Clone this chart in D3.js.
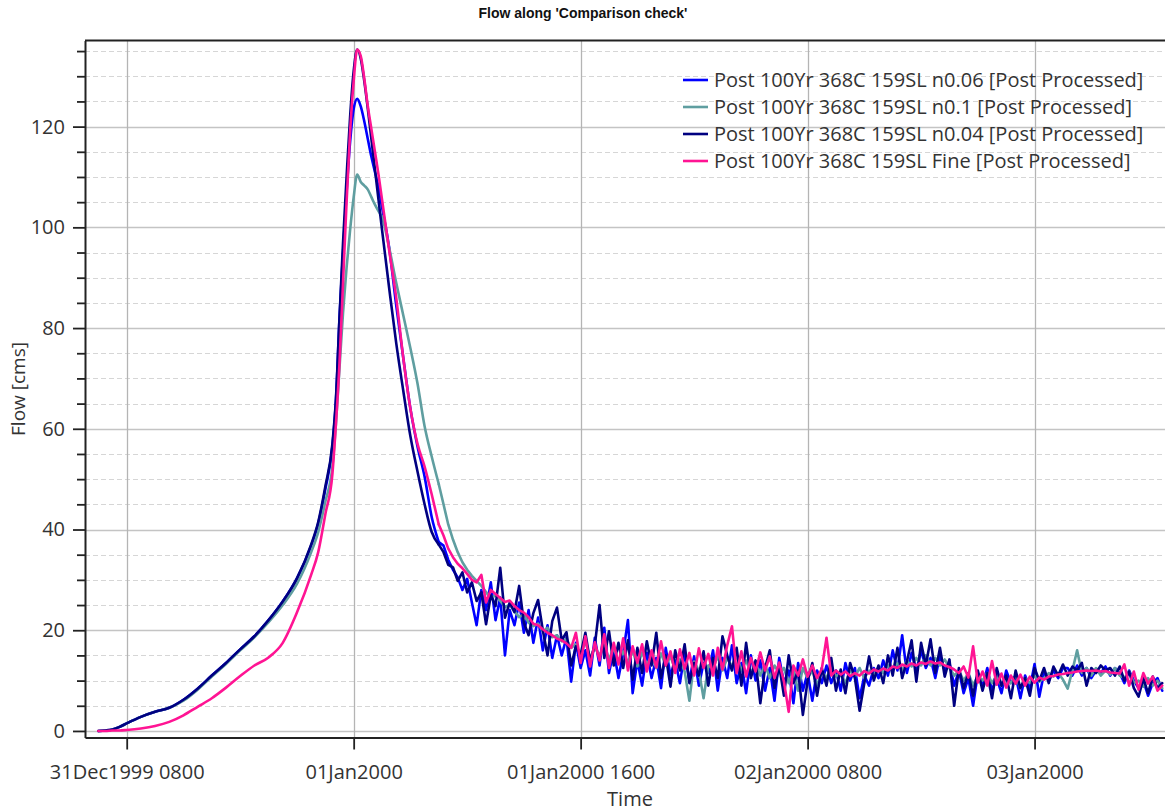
<!DOCTYPE html>
<html>
<head>
<meta charset="utf-8">
<script src="https://cdn.jsdelivr.net/npm/d3@7"></script>
<style>
  html, body { margin: 0; padding: 0; background: #fff; }
  svg { display: block; font-family: "Open Sans", "Noto Sans", sans-serif; }
</style>
</head>
<body>
<svg id="chart" width="1165" height="812"></svg>
<script>
// ---- data ---------------------------------------------------------------
const chartTitle = "Flow along 'Comparison check'";
const seriesNames = [
  "Post 100Yr 368C 159SL n0.06 [Post Processed]",
  "Post 100Yr 368C 159SL n0.1 [Post Processed]",
  "Post 100Yr 368C 159SL n0.04 [Post Processed]",
  "Post 100Yr 368C 159SL Fine [Post Processed]"
];
const seriesColors = ["#0000ff", "#5f9ea0", "#000080", "#ff1493"];

// hours after 31Dec1999 0600 for the smooth hydrograph limb
const smoothHours = [0, 0.5, 1, 1.5, 2, 3, 4, 5, 6, 7, 8, 9, 10, 11, 12, 13, 14,
  15, 15.5, 16, 16.5, 16.75, 17, 17.25, 17.5, 17.75, 18, 18.25, 18.5, 18.75, 19,
  19.25, 19.5, 19.75, 20, 20.5, 21, 21.5, 22, 22.5, 23, 23.5, 24];
// recession record continues every 20 minutes from 24h to 75h
const tailStartHour = 24;
const tailStepsPerHour = 3;

const n006Smooth = [0.0, 0.1, 0.3, 0.8, 1.5, 2.8, 3.8, 4.6, 6.2, 8.4, 11.0, 13.5, 16.2, 18.8, 22.0, 25.7, 30.3,
  36.8, 41.2, 48.0, 56.5, 65.5, 82.0, 95.0, 107.0, 117.0, 123.5, 125.5, 124.0, 121.0, 117.5,
  114.0, 111.0, 108.0, 104.0, 96.0, 84.5, 74.0, 64.0, 56.5, 50.5, 42.5, 37.5];
const n01Smooth = [0.0, 0.1, 0.3, 0.8, 1.5, 2.8, 3.8, 4.6, 6.0, 8.2, 10.8, 13.3, 16.0, 18.6, 21.6, 25.0, 29.2,
  35.5, 39.5, 45.5, 52.5, 61.0, 72.0, 83.0, 92.0, 99.5, 106.0, 110.5, 109.0, 108.3, 107.5,
  106.0, 104.5, 103.2, 102.0, 96.0, 89.0, 82.5, 76.0, 69.0, 60.5, 54.5, 49.0];
const n004Smooth = [0.0, 0.1, 0.3, 0.8, 1.5, 2.8, 3.8, 4.6, 6.2, 8.4, 11.0, 13.5, 16.2, 18.8, 22.0, 25.7, 30.3,
  37.0, 41.5, 48.5, 57.0, 66.0, 82.0, 97.0, 110.0, 122.0, 131.0, 135.3, 133.5, 129.0, 123.5,
  117.5, 111.5, 105.5, 99.5, 88.0, 77.0, 67.5, 58.5, 51.5, 45.0, 39.5, 37.0];
const fineSmooth = [0.0, 0.0, 0.1, 0.1, 0.2, 0.5, 1.0, 1.8, 3.1, 4.8, 6.5, 8.6, 10.9, 13.0, 14.6, 17.5, 23.5,
  31.0, 35.5, 43.0, 51.0, 61.0, 73.0, 89.0, 105.0, 119.0, 129.0, 135.3, 134.0, 129.5, 124.0,
  119.5, 115.0, 110.5, 105.5, 95.5, 86.0, 74.0, 64.0, 57.0, 52.5, 47.0, 41.0];

const n006Tail = [
  36.8, 34.0, 32.0,  30.5, 28.0, 30.2,  25.5, 21.0, 28.0,  24.0, 29.5, 22.0,
  26.5, 15.0, 24.0,  21.0, 25.5, 19.5,  24.0, 17.5, 22.5,  16.0, 21.0, 14.5,
  19.0, 15.0, 18.5,  9.8, 17.5, 12.5,   16.0, 11.0, 18.5,  13.0, 20.5, 11.5,
  16.0, 10.5, 15.5,  22.0, 7.5, 14.0,   9.0, 15.5, 10.5,   14.5, 8.5, 16.5,
  11.0, 14.0, 9.5,   15.5, 10.0, 14.8,  9.0, 13.5, 11.5,   16.0, 8.0, 14.5,
  10.5, 17.0, 9.5,   13.5, 7.5, 15.0,   10.0, 14.0, 8.0,   12.5, 6.0, 14.5,
  9.5, 12.0, 5.5,    13.5, 8.0, 11.5,   6.0, 12.0, 9.5,    13.0, 9.5, 12.0,
  8.0, 13.5, 10.0,   12.5, 6.5, 11.0,   9.0, 12.5, 10.5,   14.0, 11.0, 16.0,
  12.0, 19.0, 11.5,  15.5, 12.0, 16.0,  12.5, 14.5, 10.5,  15.0, 12.0, 13.5,
  9.0, 12.0, 7.5,    10.5, 5.0, 11.5,   9.0, 12.5, 8.0,    10.5, 7.5, 12.0,
  9.5, 11.0, 6.5,    11.0, 8.5, 13.3,   6.8, 11.5, 10.0,   12.0, 10.5, 12.5,
  12.5, 11.0, 13.0,  11.0, 12.5, 10.5,  12.0, 11.5, 12.8,  11.0, 12.5, 11.5,
  9.5, 12.0, 10.0,   8.5, 10.0, 7.0,    9.5, 10.5, 8.0
];
const n01Tail = [
  45.0, 41.0, 38.0,  35.5, 33.5, 32.0,  30.8, 29.8, 28.8,  27.6, 26.2, 27.0,
  25.8, 24.6, 25.0,  23.8, 22.6, 23.2,  21.5, 20.8, 21.3,  19.8, 20.5, 18.6,
  19.0, 17.8, 18.2,  16.5, 17.2, 15.0,  17.8, 14.5, 16.6,  15.0, 17.0, 14.2,
  16.5, 13.8, 15.8,  13.5, 16.0, 12.8,  15.6, 13.2, 14.8,  12.5, 15.4, 13.0,
  14.8, 12.2, 14.2,  11.8, 6.0, 13.8,   12.0, 6.5, 13.0,   12.5, 14.8, 12.0,
  14.5, 12.8, 15.0,  12.0, 14.0, 11.5,  13.5, 11.0, 13.2,  10.5, 13.0, 11.5,
  12.5, 9.5, 12.0,   8.0, 12.5, 10.5,   12.0, 9.0, 11.8,   10.5, 12.8, 10.8,
  11.5, 9.5, 12.0,   10.8, 12.5, 10.5,  12.0, 11.0, 12.8,  11.5, 13.0, 12.2,
  13.5, 12.0, 14.0,  12.8, 14.5, 13.0,  15.0, 13.0, 14.5,  13.0, 14.2, 12.5,
  11.0, 12.0, 10.0,  11.5, 9.0, 11.0,   10.0, 11.5, 9.5,   11.0, 9.0, 10.5,
  9.5, 11.0, 8.5,    10.5, 9.5, 11.0,   9.8, 10.5, 11.5,   10.8, 11.5, 10.2,
  8.4, 12.0, 16.0,   11.5, 12.5, 11.0,  12.5, 11.0, 12.0,  11.2, 12.5, 11.0,
  10.5, 11.8, 9.5,   10.0, 8.8, 10.5,   9.0, 10.0, 8.5
];
const n004Tail = [
  35.5, 33.0, 32.5,  29.8, 31.5, 27.5,  29.5, 25.8, 27.5,  21.2, 27.0, 24.8,
  32.4, 22.5, 25.5,  23.6, 28.8, 21.5,  19.0, 23.4, 26.0,  20.0, 15.0, 21.8,
  24.5, 18.0, 19.6,  13.0, 16.8, 15.2,  19.5, 13.8, 17.0,  25.0, 14.5, 19.8,
  13.0, 17.5, 12.5,  18.0, 10.2, 16.5,  11.5, 17.8, 13.0,  19.5, 10.5, 15.0,
  8.8, 16.0, 12.0,   17.2, 9.5, 13.5,   11.0, 15.8, 9.0,   14.5, 10.5, 18.8,
  15.0, 12.0, 16.5,  9.0, 17.5, 10.5,   14.0, 5.5, 12.5,   16.0, 8.5, 13.0,
  7.0, 15.0, 9.5,    12.0, 3.2, 10.0,   13.5, 7.0, 12.5,   9.0, 14.5, 8.0,
  12.2, 7.5, 13.5,   10.5, 4.0, 9.5,    14.8, 10.0, 13.0,  9.5, 15.0, 11.0,
  16.5, 10.5, 13.8,  18.0, 9.8, 17.5,   13.0, 18.2, 11.5,  16.5, 10.8, 14.2,
  5.0, 12.5, 8.5,    11.5, 7.0, 12.0,   8.0, 11.5, 6.5,    12.5, 9.0, 11.0,
  6.5, 12.0, 8.5,    10.5, 7.0, 12.5,   10.0, 12.5, 9.5,   12.8, 11.0, 13.2,
  11.0, 12.8, 12.0,  13.5, 9.0, 12.5,   11.5, 13.0, 12.0,  12.5, 11.0, 12.8,
  10.0, 11.8, 8.5,   6.8, 10.5, 7.5,    10.8, 8.5, 9.5
];
const fineTail = [
  38.8, 36.2, 34.5,  33.2, 32.3, 31.2,  30.0, 29.5, 31.0,  25.5, 28.0, 27.2,
  26.4, 25.6, 25.9,  24.8, 24.0, 23.5,  22.6, 21.3, 21.0,  20.2, 19.5, 19.0,
  18.3, 18.0, 17.4,  16.5, 19.5, 13.5,  18.8, 12.8, 17.6,  14.0, 19.2, 12.5,
  17.5, 13.2, 18.4,  12.0, 16.8, 13.5,  17.2, 11.8, 16.0,  12.6, 17.8, 13.0,
  15.8, 11.5, 16.2,  12.3, 15.5, 11.0,  16.4, 12.5, 15.3,  11.0, 16.5, 12.2,
  17.0, 20.8, 11.5,  15.8, 10.8, 14.5,  11.8, 15.6, 12.0,  14.8, 10.5, 13.6,
  9.8, 3.8, 13.0,    11.0, 14.2, 10.8,  13.0, 10.5, 12.3,  18.5, 11.0, 12.0,
  11.2, 11.8, 10.9,  11.5, 11.0, 11.9,  11.4, 12.2, 11.8,  12.4, 12.0, 12.8,
  12.5, 13.2, 12.8,  13.4, 13.0, 13.6,  13.3, 13.8, 13.4,  13.6, 13.0, 12.7,
  12.2, 11.5, 12.8,  10.6, 16.8, 9.6,   11.8, 9.0, 13.9,   9.2, 11.4, 8.6,
  11.0, 9.4, 11.2,   9.0, 10.8, 9.6,    10.6, 10.2, 10.8,  10.9, 11.2, 11.3,
  11.5, 11.6, 11.8,  11.9, 12.0, 11.9,  12.0, 11.8, 11.9,  11.6, 11.5, 11.4,
  13.2, 9.0, 11.8,   8.2, 11.5, 9.4,    10.8, 8.0, 9.0
];

const yMajorTicks = [0, 20, 40, 60, 80, 100, 120];
const yMinorTicks = [5, 10, 15, 25, 30, 35, 45, 50, 55, 65, 70, 75, 85, 90, 95, 105, 110, 115, 125, 130, 135];
const xTickTimes = ["1999-12-31T08:00", "2000-01-01T00:00", "2000-01-01T16:00", "2000-01-02T08:00", "2000-01-03T00:00"];
const xTickLabels = ["31Dec1999 0800", "01Jan2000", "01Jan2000 1600", "02Jan2000 0800", "03Jan2000"];
const yAxisTitle = "Flow [cms]";
const xAxisTitle = "Time";

// ---- build series -------------------------------------------------------
const startTime = new Date(1999, 11, 31, 6, 0);
const atHour = h => new Date(startTime.getTime() + h * 3600e3);
const tailHours = n006Tail.map((_, i) => tailStartHour + (i + 1) / tailStepsPerHour);

const smoothValues = [n006Smooth, n01Smooth, n004Smooth, fineSmooth];
const tailValues = [n006Tail, n01Tail, n004Tail, fineTail];
const series = seriesNames.map((name, k) => {
  const rise = smoothHours.map((h, i) => ({ t: atHour(h), v: smoothValues[k][i] }));
  const tail = tailHours.map((h, i) => ({ t: atHour(h), v: tailValues[k][i] }));
  // recession segment starts from the last point of the smooth limb
  return { name, color: seriesColors[k], rise, tail: [rise[rise.length - 1]].concat(tail) };
});

// ---- layout -------------------------------------------------------------
const W = 1165, H = 812;
const plot = { left: 85, top: 40.5, right: 1175, bottom: 737.5 };

const x = d3.scaleTime()
  .domain([atHour(-0.94), atHour(75.9)])
  .range([plot.left, plot.right]);
const y = d3.scaleLinear()
  .domain([-1.3, 137.1])
  .range([plot.bottom, plot.top]);

const svg = d3.select("#chart");
svg.append("rect").attr("width", W).attr("height", H).attr("fill", "#fff");

svg.append("defs").append("clipPath").attr("id", "plotClip")
  .append("rect")
  .attr("x", plot.left).attr("y", plot.top)
  .attr("width", plot.right - plot.left).attr("height", plot.bottom - plot.top);

// grid
const grid = svg.append("g");
grid.selectAll(".minor").data(yMinorTicks).join("line")
  .attr("x1", plot.left).attr("x2", W)
  .attr("y1", d => Math.round(y(d)) + 0.5).attr("y2", d => Math.round(y(d)) + 0.5)
  .attr("stroke", "#d6d6d6").attr("stroke-width", 1).attr("stroke-dasharray", "5,3");
grid.selectAll(".major").data(yMajorTicks).join("line")
  .attr("x1", plot.left).attr("x2", W)
  .attr("y1", d => Math.round(y(d)) + 0.5).attr("y2", d => Math.round(y(d)) + 0.5)
  .attr("stroke", "#c4c4c4").attr("stroke-width", 1.3);
const xTickDates = xTickTimes.map(s => new Date(s));
grid.selectAll(".vert").data(xTickDates).join("line")
  .attr("x1", d => Math.round(x(d)) + 0.5).attr("x2", d => Math.round(x(d)) + 0.5)
  .attr("y1", plot.top).attr("y2", plot.bottom)
  .attr("stroke", "#b4b4b4").attr("stroke-width", 1.3);

// series lines: smooth rising/falling limb, then the raw recession record
const smoothLine = d3.line().x(d => x(d.t)).y(d => y(d.v)).curve(d3.curveMonotoneX);
const rawLine = d3.line().x(d => x(d.t)).y(d => y(d.v)).curve(d3.curveLinear);
const lines = svg.append("g").attr("clip-path", "url(#plotClip)")
  .selectAll("g").data(series).join("g")
  .attr("fill", "none")
  .attr("stroke", d => d.color)
  .attr("stroke-width", 2.6)
  .attr("stroke-linejoin", "round")
  .attr("stroke-linecap", "round");
lines.append("path").attr("d", d => smoothLine(d.rise));
lines.append("path").attr("d", d => rawLine(d.tail));

// axes
const tickFont = g => g.selectAll("text")
  .attr("font-size", 20).attr("fill", "#333")
  .attr("font-family", "'Open Sans','Noto Sans',sans-serif");

const yAxis = svg.append("g").attr("transform", `translate(${plot.left},0)`)
  .call(d3.axisLeft(y).tickValues(yMajorTicks).tickSize(12).tickSizeOuter(0).tickPadding(8));
yAxis.call(tickFont);
yAxis.select(".domain").attr("stroke", "#222").attr("stroke-width", 2);
yAxis.selectAll(".tick line").attr("stroke", "#222").attr("stroke-width", 1.8);

const yMinorAxis = svg.append("g").attr("transform", `translate(${plot.left},0)`)
  .call(d3.axisLeft(y).tickValues(yMinorTicks).tickSize(8).tickSizeOuter(0).tickFormat(""));
yMinorAxis.select(".domain").remove();
yMinorAxis.selectAll(".tick line").attr("stroke", "#222").attr("stroke-width", 1.8);

const xAxis = svg.append("g").attr("transform", `translate(0,${plot.bottom})`)
  .call(d3.axisBottom(x).tickValues(xTickDates).tickSize(12).tickSizeOuter(0).tickPadding(15)
    .tickFormat((d, i) => xTickLabels[i]));
xAxis.call(tickFont);
xAxis.select(".domain").attr("stroke", "#222").attr("stroke-width", 2);
xAxis.selectAll(".tick line").attr("stroke", "#222").attr("stroke-width", 1.8);

// top frame edge
svg.append("line")
  .attr("x1", plot.left).attr("x2", W)
  .attr("y1", plot.top).attr("y2", plot.top)
  .attr("stroke", "#222").attr("stroke-width", 2);

// titles
svg.append("text")
  .attr("x", 583).attr("y", 18)
  .attr("text-anchor", "middle")
  .attr("font-family", "'Liberation Sans', Arial, sans-serif")
  .attr("font-size", 14).attr("font-weight", "bold").attr("fill", "#111")
  .text(chartTitle);
svg.append("text")
  .attr("transform", `translate(25,${(plot.top + plot.bottom) / 2}) rotate(-90)`)
  .attr("text-anchor", "middle")
  .attr("font-size", 19).attr("fill", "#333")
  .text(yAxisTitle);
svg.append("text")
  .attr("x", 630).attr("y", 806)
  .attr("text-anchor", "middle")
  .attr("font-size", 20).attr("fill", "#333")
  .text(xAxisTitle);

// legend
const legend = svg.append("g").attr("transform", "translate(683,80)");
const items = legend.selectAll("g").data(series).join("g")
  .attr("transform", (d, i) => `translate(0,${i * 27})`);
items.append("line")
  .attr("x1", 0).attr("x2", 25).attr("y1", 0).attr("y2", 0)
  .attr("stroke", d => d.color).attr("stroke-width", 2.6);
items.append("text")
  .attr("x", 31).attr("y", 0).attr("dy", "0.35em")
  .attr("font-size", 20).attr("fill", "#333")
  .text(d => d.name);
</script>
</body>
</html>
